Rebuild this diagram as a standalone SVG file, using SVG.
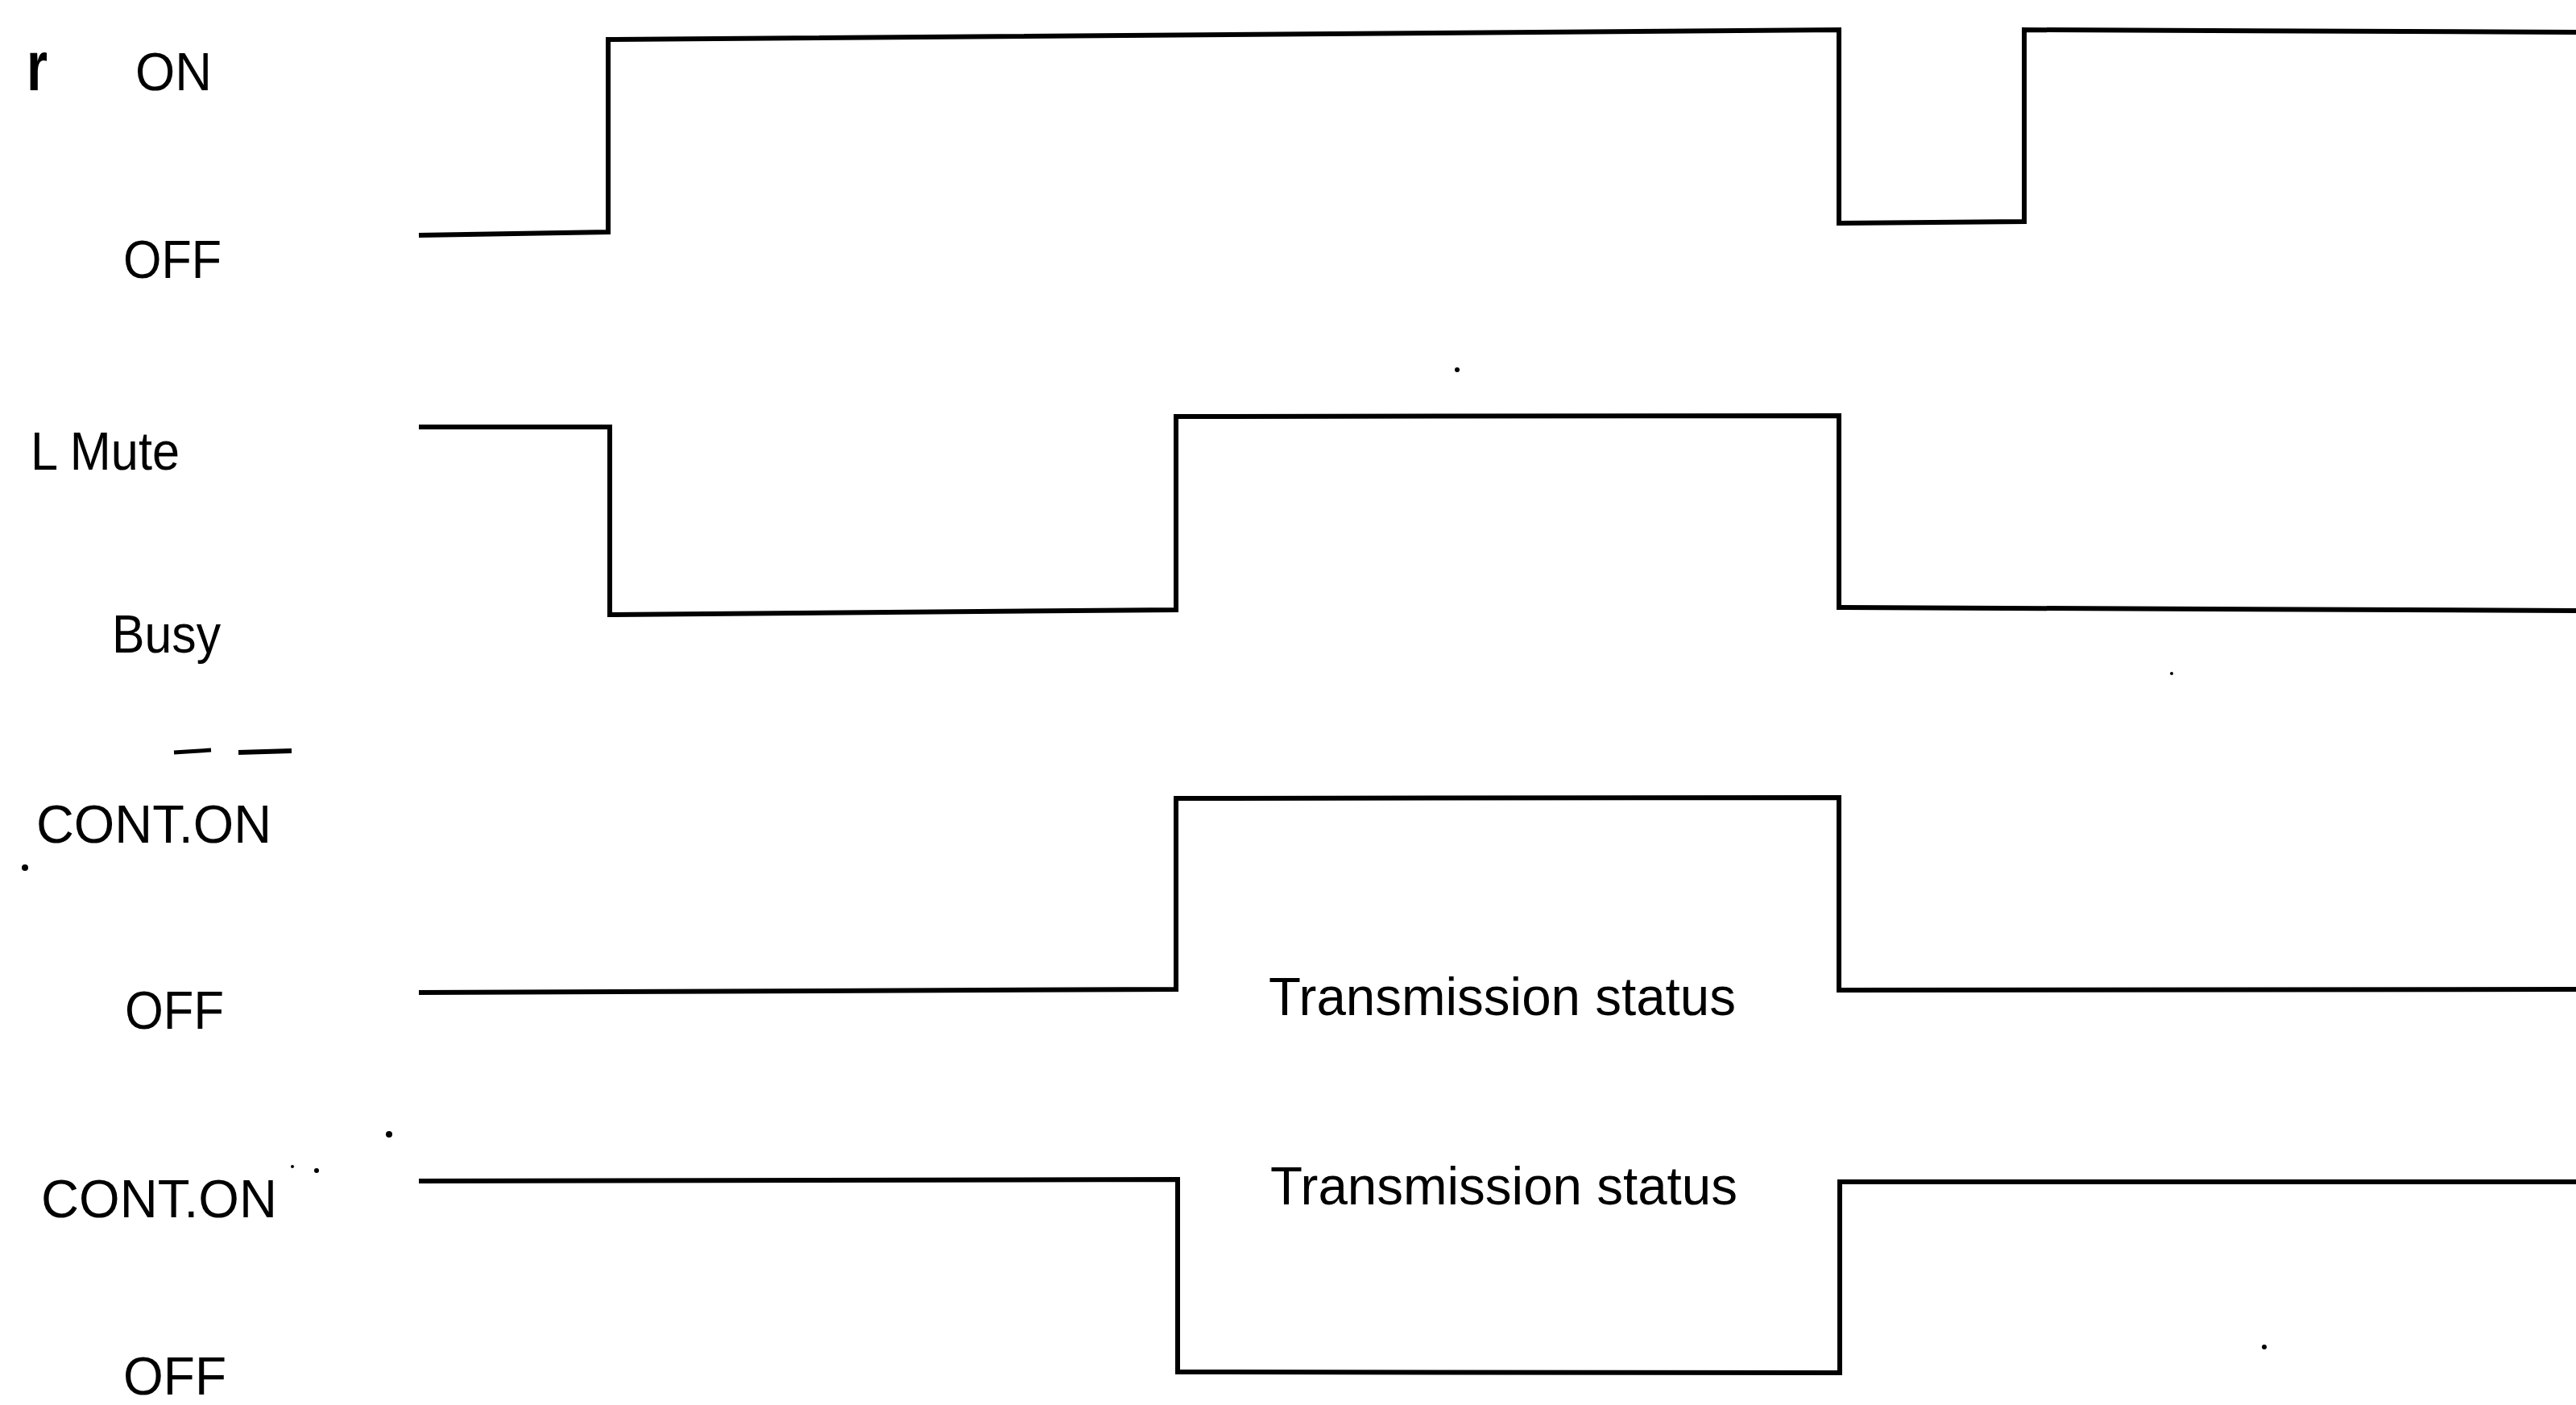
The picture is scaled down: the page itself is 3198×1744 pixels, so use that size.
<svg xmlns="http://www.w3.org/2000/svg" width="3198" height="1744" viewBox="0 0 3198 1744">
<style>
.lbl{font-family:"Liberation Sans",Arial,sans-serif;font-size:66px;fill:#000}
.wave{fill:none;stroke:#000;stroke-width:6;stroke-linejoin:miter}
.dot{fill:#000}
</style>
<rect width="3198" height="1744" fill="#fff"/>
<g id="labels">
  <text class="lbl" x="33" y="112" style="font-weight:bold;font-size:88px" textLength="26" lengthAdjust="spacingAndGlyphs">r</text>
  <text class="lbl" x="168" y="112" textLength="95" lengthAdjust="spacingAndGlyphs">ON</text>
  <text class="lbl" x="153" y="345" textLength="122" lengthAdjust="spacingAndGlyphs">OFF</text>
  <text class="lbl" x="38" y="583" textLength="185" lengthAdjust="spacingAndGlyphs">L Mute</text>
  <text class="lbl" x="139" y="810" textLength="135" lengthAdjust="spacingAndGlyphs">Busy</text>
  <text class="lbl" x="45" y="1046" textLength="292" lengthAdjust="spacingAndGlyphs">CONT.ON</text>
  <text class="lbl" x="155" y="1277" textLength="123" lengthAdjust="spacingAndGlyphs">OFF</text>
  <text class="lbl" x="51" y="1511" textLength="293" lengthAdjust="spacingAndGlyphs">CONT.ON</text>
  <text class="lbl" x="153" y="1731" textLength="128" lengthAdjust="spacingAndGlyphs">OFF</text>
  <text class="lbl" x="1575" y="1260" textLength="580" lengthAdjust="spacingAndGlyphs">Transmission status</text>
  <text class="lbl" x="1577" y="1495" textLength="580" lengthAdjust="spacingAndGlyphs">Transmission status</text>
</g>
<g id="connectors">
  <path id="wave1" class="wave" d="M520,292 L755,288 L755,49 L2283,37 L2283,277 L2513,275 L2513,37 L3198,40"/>
  <path id="wave2" class="wave" d="M520,530 L757,530 L757,763 L1460,757 L1460,517 L2283,516 L2283,754 L3198,758"/>
  <path id="wave3" class="wave" d="M520,1232 L1460,1228 L1460,991 L2283,990 L2283,1229 L3198,1228"/>
  <path id="wave4" class="wave" d="M520,1466 L1462,1464 L1462,1703 L2284,1704 L2284,1467 L3198,1467"/>
</g>
<g id="specks">
  <path d="M216,934 L262,931" stroke="#000" stroke-width="5"/>
  <path d="M296,934 L362,932" stroke="#000" stroke-width="6"/>
  <circle class="dot" cx="31" cy="1077" r="4"/>
  <circle class="dot" cx="1809" cy="459" r="3"/>
  <circle class="dot" cx="483" cy="1408" r="4"/>
  <circle class="dot" cx="393" cy="1453" r="3"/>
  <circle class="dot" cx="363" cy="1448" r="2"/>
  <circle class="dot" cx="2696" cy="836" r="2"/>
  <circle class="dot" cx="2811" cy="1672" r="3"/>
</g>
</svg>
